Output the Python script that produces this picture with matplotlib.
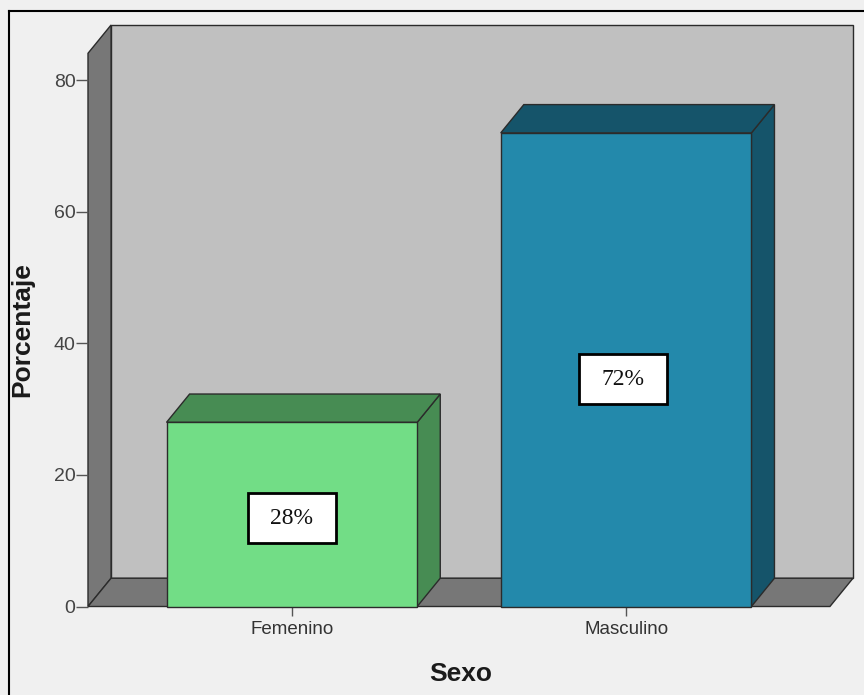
import matplotlib.pyplot as plt
from matplotlib.patches import Polygon, Rectangle
from matplotlib.lines import Line2D

# data
categories = ["Femenino", "Masculino"]
percentages = [28, 72]
labels = ["28%", "72%"]
y_ticks = [0, 20, 40, 60, 80]

front_colors = ["#72dd86", "#2389ab"]
dark_colors = ["#478c53", "#15546a"]

# pseudo-3D layout (data units)
BAR_W = 0.75
DX, DY = 0.069, 4.3      # depth offset
X_MIN, X_MAX = -0.61, 1.61
WALL_TOP = 84.1
EDGE = "#2b2b2b"

plt.rcParams["font.family"] = ["Liberation Sans", "DejaVu Sans"]

fig = plt.figure(figsize=(8.64, 6.95), dpi=100, facecolor="#f0f0f0")
W, H = 864, 695
ax = fig.add_axes([88 / W, 88.5 / H, (853 - 88) / W, (606.5 - 25) / H])
ax.set_xlim(X_MIN, X_MAX + DX)
ax.set_ylim(0, WALL_TOP + DY)
ax.patch.set_visible(False)
for s in ax.spines.values():
    s.set_visible(False)


def poly(pts, fc, z=1, lw=1.0):
    ax.add_patch(Polygon(pts, closed=True, facecolor=fc, edgecolor=EDGE,
                         linewidth=lw, zorder=z, clip_on=False))


# back wall, side wall, floor
poly([(X_MIN + DX, DY), (X_MAX + DX, DY), (X_MAX + DX, WALL_TOP + DY),
      (X_MIN + DX, WALL_TOP + DY)], "#c0c0c0")
poly([(X_MIN, 0), (X_MIN, WALL_TOP), (X_MIN + DX, WALL_TOP + DY),
      (X_MIN + DX, DY)], "#777777")
poly([(X_MIN, 0), (X_MAX, 0), (X_MAX + DX, DY), (X_MIN + DX, DY)], "#777777")

# bars
for i, (v, fc, dc) in enumerate(zip(percentages, front_colors, dark_colors)):
    x0, x1 = i - BAR_W / 2, i + BAR_W / 2
    poly([(x1, 0), (x1 + DX, DY), (x1 + DX, v + DY), (x1, v)], dc, z=2)
    poly([(x0, v), (x1, v), (x1 + DX, v + DY), (x0 + DX, v + DY)], dc, z=2)
    poly([(x0, 0), (x1, 0), (x1, v), (x0, v)], fc, z=3)

    # value label box
    bw, bh = 0.263, 7.6
    cx, cy = i - 0.01 * i, v * 0.48
    ax.add_patch(Rectangle((cx - bw / 2, cy - bh / 2), bw, bh, facecolor="white",
                           edgecolor="black", linewidth=2, zorder=4))
    ax.text(cx, cy, labels[i], ha="center", va="center", fontsize=17,
            family="Liberation Serif", color="#111111", zorder=5)

ax.set_yticks(y_ticks)
ax.set_xticks(range(len(categories)))
ax.set_xticklabels(categories)
ax.tick_params(axis="y", length=8.5, width=1, color="#555555", pad=0.5,
               labelsize=14, labelcolor="#444444")
ax.tick_params(axis="x", length=6.5, width=1, color="#555555", pad=4,
               labelsize=13.5, labelcolor="#333333")

# axis titles
fig.text(461 / W, 1 - 674 / H, "Sexo", ha="center", va="center",
         fontsize=19, fontweight="bold", color="#1a1a1a")
fig.text(22 / W, 1 - 330 / H, "Porcentaje", ha="center", va="center",
         rotation=90, fontsize=19, fontweight="bold", color="#1a1a1a")

# outer frame (top and left edges visible)
fig.add_artist(Line2D([9 / W, 9 / W], [0, 1 - 11 / H], color="black", lw=1.5))
fig.add_artist(Line2D([9 / W, 1], [1 - 11 / H, 1 - 11 / H], color="black", lw=1.5))

fig.savefig("out.png", dpi=100, facecolor=fig.get_facecolor())
